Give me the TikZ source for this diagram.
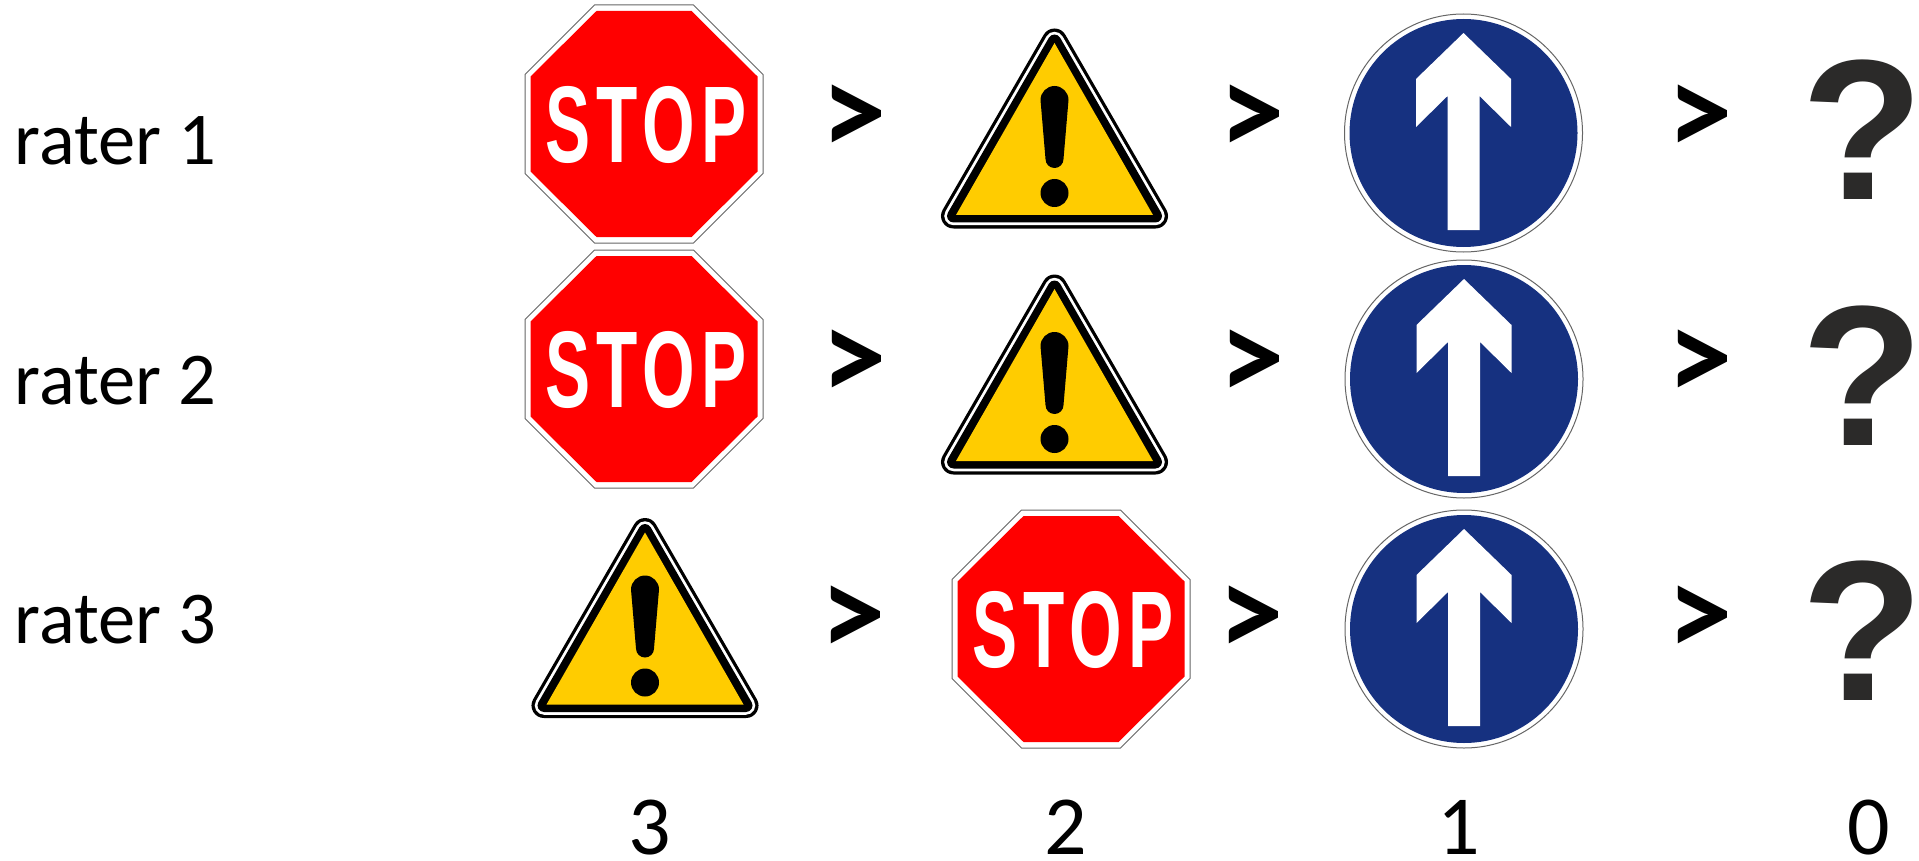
\documentclass[tikz,border=0pt]{standalone}
\usepackage{graphicx}
\usepackage{fontspec}
\setmainfont{Carlito}
\newfontfamily\signfont{Liberation Sans}
\newfontfamily\stopfont[LetterSpace=9.0]{Liberation Sans}
\definecolor{signred}{HTML}{FF0000}
\definecolor{signblue}{HTML}{163180}
\definecolor{signyellow}{HTML}{FFCC00}
\definecolor{rimgray}{HTML}{666666}
\definecolor{qmark}{HTML}{2B2A29}
\tikzset{
  rim/.style={draw=rimgray,line width=1pt,fill=white,line join=miter},
  label text/.style={inner sep=0pt,anchor=base west,font=\fontsize{74.5}{80}\selectfont},
  score/.style={inner sep=0pt,anchor=base,font=\fontsize{84}{90}\selectfont},
  gt/.style={inner sep=0pt,anchor=center,font=\fontsize{131}{150}\selectfont\bfseries},
  unknown/.style={inner sep=0pt,anchor=center,text=qmark,font=\signfont\fontsize{200}{200}\selectfont\bfseries},
  stoptext/.style={inner sep=0pt,anchor=center,text=white,font=\stopfont\fontsize{109}{120}\selectfont\bfseries}
}
\newcommand{\StopSign}[3]{%
  \begin{scope}[shift={(#2,#3)}]
    \draw[rim] (-119,-49.5) -- (-49.5,-119) -- (49.5,-119) -- (119,-49.5) -- (119,49.5) -- (49.5,119) -- (-49.5,119) -- (-119,49.5) -- cycle;
    \fill[signred] (-113.5,-47.5) -- (-47.5,-113) -- (47.5,-113) -- (113.5,-47.5) -- (113.5,47.5) -- (47.5,113) -- (-47.5,113) -- (-113.5,47.5) -- cycle;
    \node[stoptext] (#1) at (2,0.8) {\scalebox{.62}[1]{STOP}};
  \end{scope}}
\newcommand{\WarnSign}[3]{%
  \begin{scope}[shift={(#2,#3)}]
    \coordinate (#1) at (0,0);
    \draw[black,line width=25pt,line join=round] (0,-87.5) -- (101,87.5) -- (-101,87.5) -- cycle;
    \draw[white,line width=18.5pt,line join=round] (0,-87.5) -- (101,87.5) -- (-101,87.5) -- cycle;
    \draw[black,line width=13pt,line join=round] (0,-87.5) -- (101,87.5) -- (-101,87.5) -- cycle;
    \fill[black] (0,-87.5) -- (101,87.5) -- (-101,87.5) -- cycle;
    \fill[signyellow] (0,-85.5) -- (98.5,86.5) -- (-98.5,86.5) -- cycle;
    \fill[black] (-14,-28.5) .. controls (-14,-36.2) and (-7.7,-42.5) .. (0,-42.5)
      .. controls (7.7,-42.5) and (14,-36.2) .. (14,-28.5)
      -- (9,30.5) .. controls (9,35.5) and (5,39.5) .. (0,39.5)
      .. controls (-5,39.5) and (-9,35.5) .. (-9,30.5) -- cycle;
    \fill[black] (0,64.5) circle[radius=14pt];
  \end{scope}}
\newcommand{\AheadSign}[3]{%
  \begin{scope}[shift={(#2,#3)}]
    \coordinate (#1) at (0,0);
    \draw[rim] (0,0) circle[radius=119pt];
    \fill[signblue] (0,0) circle[radius=114pt];
    \fill[white] (0,-100) -- (47.5,-54) -- (47.5,-6) -- (16,-37) -- (16,97) -- (-16,97) -- (-16,-37) -- (-47.5,-6) -- (-47.5,-54) -- cycle;
  \end{scope}}
\begin{document}
\begin{tikzpicture}[x=1pt,y=-1pt]
\useasboundingbox (0,0) rectangle (1919,861);
\fill[white] (0,0) rectangle (1919,861);
\node[label text] (r1) at (14.5,165) {rater 1};
\node[label text] (r2) at (14.5,404) {rater 2};
\node[label text] (r3) at (14.5,643) {rater 3};
\StopSign{s1}{644}{124}
\StopSign{s2}{644}{369}
\StopSign{s3}{1071}{629}
\WarnSign{w1}{1054.5}{128.5}
\WarnSign{w2}{1054.5}{374.5}
\WarnSign{w3}{645}{618}
\AheadSign{a1}{1463.5}{133}
\AheadSign{a2}{1464}{379}
\AheadSign{a3}{1464}{629}
\node[gt] (g11) at (854.5,120) {>};
\node[gt] (g12) at (1252.5,120) {>};
\node[gt] (g13) at (1700.5,120) {>};
\node[gt] (g21) at (854.5,365.5) {>};
\node[gt] (g22) at (1252.5,365.5) {>};
\node[gt] (g23) at (1700.5,365.5) {>};
\node[gt] (g31) at (853.5,621.5) {>};
\node[gt] (g32) at (1251.5,621.5) {>};
\node[gt] (g33) at (1700.5,621.5) {>};
\node[unknown] (q1) at (1863,130) {?};
\node[unknown] (q2) at (1863,376) {?};
\node[unknown] (q3) at (1863,630.5) {?};
\node[score] (n3) at (650,854) {3};
\node[score] (n2) at (1066,854) {2};
\node[score] (n1) at (1459,854) {1};
\node[score] (n0) at (1869,854) {0};
\end{tikzpicture}
\end{document}
